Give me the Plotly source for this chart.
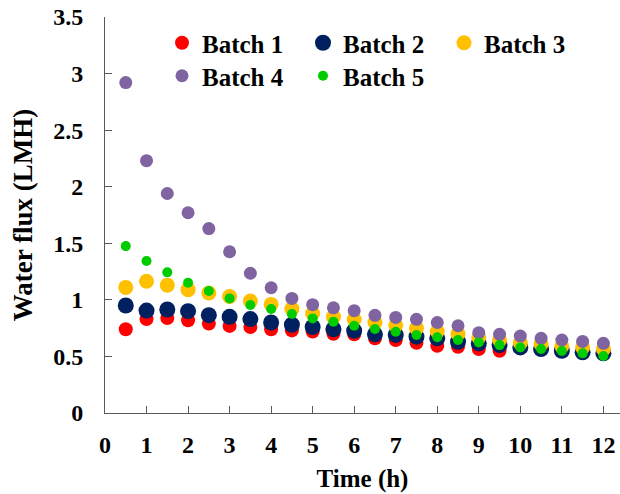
import plotly.graph_objects as go

time_h = [0.5, 1, 1.5, 2, 2.5, 3, 3.5, 4, 4.5, 5, 5.5, 6,
          6.5, 7, 7.5, 8, 8.5, 9, 9.5, 10, 10.5, 11, 11.5, 12]

batch1 = [0.74, 0.83, 0.84, 0.82, 0.79, 0.77, 0.76, 0.74, 0.73, 0.72, 0.70, 0.695,
          0.66, 0.645, 0.62, 0.595, 0.585, 0.565, 0.55, 0.575, 0.565, 0.55, 0.535, 0.525]
batch2 = [0.95, 0.905, 0.915, 0.90, 0.865, 0.85, 0.83, 0.80, 0.78, 0.76, 0.74, 0.727,
          0.695, 0.69, 0.675, 0.66, 0.63, 0.615, 0.60, 0.58, 0.565, 0.55, 0.536, 0.527]
batch3 = [1.11, 1.165, 1.13, 1.09, 1.06, 1.03, 0.99, 0.96, 0.92, 0.88, 0.85, 0.827,
          0.80, 0.775, 0.75, 0.72, 0.70, 0.67, 0.645, 0.62, 0.61, 0.59, 0.58, 0.565]
batch4 = [2.92, 2.23, 1.94, 1.77, 1.63, 1.425, 1.235, 1.107, 1.013, 0.957, 0.93, 0.904,
          0.863, 0.845, 0.828, 0.80, 0.771, 0.71, 0.695, 0.68, 0.66, 0.645, 0.633, 0.616]
batch5 = [1.475, 1.343, 1.243, 1.151, 1.078, 1.013, 0.954, 0.919, 0.875, 0.836, 0.807, 0.771,
          0.742, 0.718, 0.689, 0.669, 0.645, 0.624, 0.60, 0.58, 0.565, 0.548, 0.527, 0.504]

names = ["Batch 1", "Batch 2", "Batch 3", "Batch 4", "Batch 5"]
series = [batch1, batch2, batch3, batch4, batch5]
colors = ["#FF0000", "#002060", "#FFC000", "#8064A2", "#00CC00"]
sizes = [14, 16, 15, 13, 10]
legends = ["legend", "legend", "legend", "legend2", "legend2"]

FONT = "Liberation Serif"

fig = go.Figure()
for n, s, c, sz, lg in zip(names, series, colors, sizes, legends):
    fig.add_trace(go.Scatter(
        x=time_h, y=s, name="<b>" + n + "</b>", mode="markers",
        marker=dict(color=c, size=sz, line=dict(width=0)),
        legend=lg,
    ))

W, H = 620, 494
L, R, T, B = 105, 0, 17, 81
pw = W - L - R

def lx(px):
    return (px - L) / pw

legend_common = dict(
    orientation="h", xanchor="left", yanchor="middle",
    font=dict(family=FONT, size=25, color="black"),
    bgcolor="rgba(0,0,0,0)", itemsizing="trace",
    entrywidth=96, entrywidthmode="pixels",
)

fig.update_layout(
    width=W, height=H,
    margin=dict(l=L, r=R, t=T, b=B),
    plot_bgcolor="white", paper_bgcolor="white",
    font=dict(family=FONT, color="black"),
    legend=dict(x=lx(162), y=(H - B - 43) / (H - T - B), **legend_common),
    legend2=dict(x=lx(162), y=(H - B - 76) / (H - T - B), **legend_common),
    xaxis=dict(
        range=[0, 12.4], tick0=0, dtick=1,
        showline=True, linecolor="#595959", linewidth=1,
        ticks="inside", ticklen=7, tickcolor="#595959",
        showgrid=False, zeroline=False,
        tickfont=dict(family=FONT, size=24, color="black"),
        ticklabelstandoff=10,
        title=dict(text="<b>Time (h)</b>", font=dict(family=FONT, size=25, color="black"), standoff=12),
        tickprefix="<b>", ticksuffix="</b>",
    ),
    yaxis=dict(
        range=[0, 3.5], tick0=0, dtick=0.5,
        showline=True, linecolor="#595959", linewidth=1,
        ticks="inside", ticklen=7, tickcolor="#595959",
        showgrid=False, zeroline=False,
        tickfont=dict(family=FONT, size=24, color="black"),
        ticklabelstandoff=16,
        title=dict(text="<b>Water flux (LMH)</b>", font=dict(family=FONT, size=27, color="black"), standoff=12),
        tickprefix="<b>", ticksuffix="</b>",
    ),
)

fig.write_html("out.html")
